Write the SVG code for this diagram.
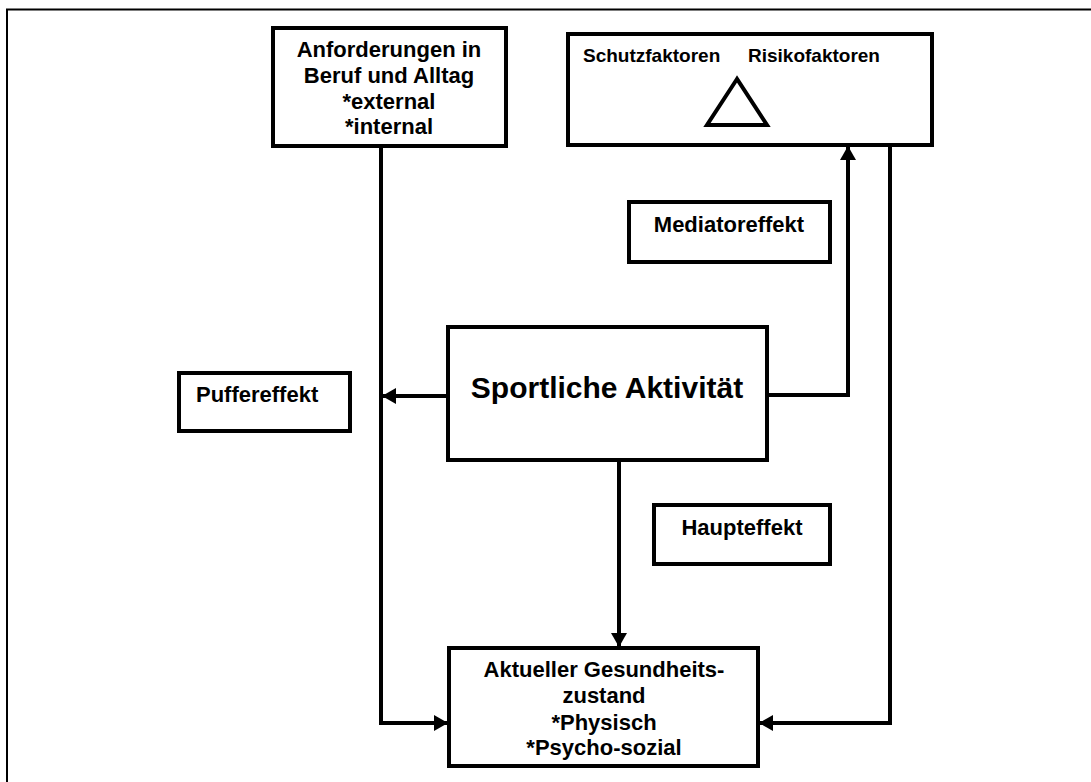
<svg xmlns="http://www.w3.org/2000/svg" width="1091" height="782" viewBox="0 0 1091 782">
  <style>
    .box { fill: #ffffff; stroke: #000000; stroke-width: 4; }
    .frame { fill: none; stroke: #000000; stroke-width: 2; }
    .conn { fill: none; stroke: #000000; stroke-width: 4; }
    .t { font-family: "Liberation Sans", Arial, sans-serif; font-weight: bold; font-size: 22px; fill: #000000; }
    .ts { font-family: "Liberation Sans", Arial, sans-serif; font-weight: bold; font-size: 19px; fill: #000000; }
    .tb { font-family: "Liberation Sans", Arial, sans-serif; font-weight: bold; font-size: 30px; fill: #000000; }
    .mid { text-anchor: middle; }
  </style>
  <defs>
    <marker id="arrow" markerUnits="userSpaceOnUse" markerWidth="14" markerHeight="16" refX="13" refY="8" orient="auto">
      <path d="M0,0 L14,8 L0,16 Z" fill="#000000"/>
    </marker>
  </defs>
  <rect x="0" y="0" width="1091" height="782" fill="#ffffff"/>
  <path class="frame" d="M7,782 L7,9.5 L1091,9.5"/>

  <g id="connectors">
    <path class="conn" d="M381,146 L381,723 L447,723" marker-end="url(#arrow)"/>
    <path class="conn" d="M448,396 L383,396" marker-end="url(#arrow)"/>
    <path class="conn" d="M767,395 L848,395 L848,147" marker-end="url(#arrow)"/>
    <path class="conn" d="M890,145 L890,723 L760,723" marker-end="url(#arrow)"/>
    <path class="conn" d="M619,460 L619,646" marker-end="url(#arrow)"/>
  </g>

  <g id="anforderungen">
    <rect class="box" x="273" y="28" width="233" height="118"/>
    <text class="t mid" x="389" y="57">Anforderungen in</text>
    <text class="t mid" x="389" y="83">Beruf und Alltag</text>
    <text class="t mid" x="389" y="109">*external</text>
    <text class="t mid" x="389" y="134">*internal</text>
  </g>

  <g id="schutz-risiko">
    <rect class="box" x="568" y="34" width="364" height="111"/>
    <text class="ts" x="583" y="62">Schutzfaktoren</text>
    <text class="ts" x="748" y="62">Risikofaktoren</text>
    <polygon points="737,79 707,125 767,125" fill="none" stroke="#000000" stroke-width="4"/>
  </g>

  <g id="mediatoreffekt">
    <rect class="box" x="629" y="202" width="201" height="60"/>
    <text class="t mid" x="729" y="232">Mediatoreffekt</text>
  </g>

  <g id="puffereffekt">
    <rect class="box" x="179" y="373" width="171" height="58"/>
    <text class="t" x="196" y="402">Puffereffekt</text>
  </g>

  <g id="sportliche-aktivitaet">
    <rect class="box" x="448" y="327" width="319" height="133"/>
    <text class="tb mid" x="607" y="398">Sportliche Aktivität</text>
  </g>

  <g id="haupteffekt">
    <rect class="box" x="654" y="505" width="176" height="59"/>
    <text class="t mid" x="742" y="535">Haupteffekt</text>
  </g>

  <g id="gesundheitszustand">
    <rect class="box" x="449" y="648" width="309" height="118"/>
    <text class="t mid" x="604" y="677">Aktueller Gesundheits-</text>
    <text class="t mid" x="604" y="703">zustand</text>
    <text class="t mid" x="604" y="730">*Physisch</text>
    <text class="t mid" x="604" y="755">*Psycho-sozial</text>
  </g>
</svg>
